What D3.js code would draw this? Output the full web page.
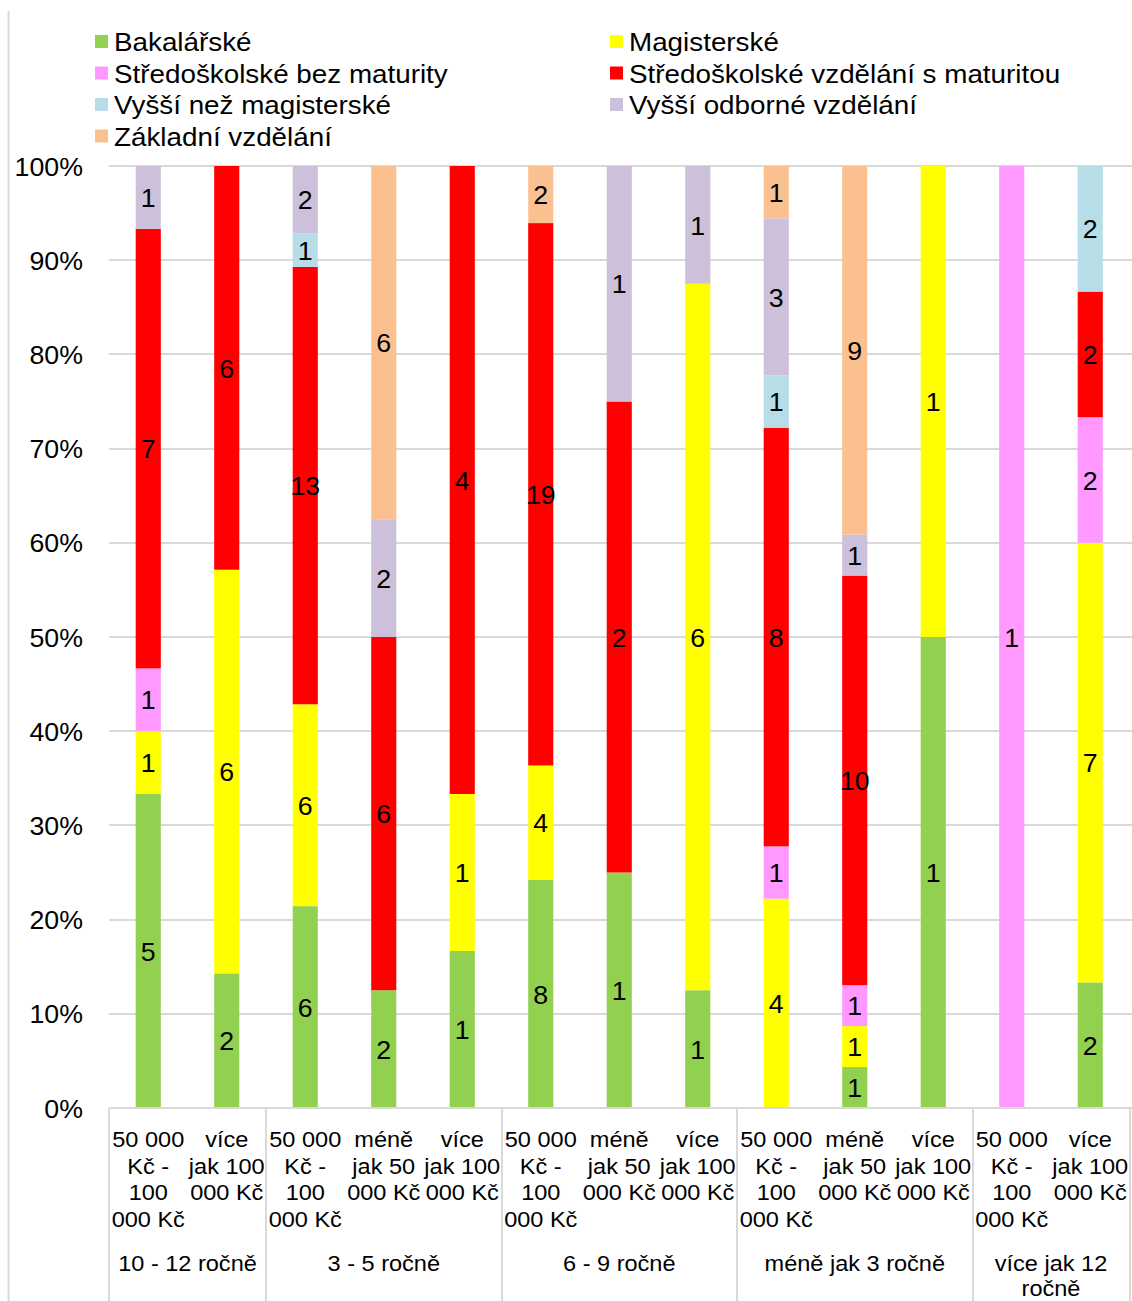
<!DOCTYPE html>
<html>
<head>
<meta charset="utf-8">
<script src="https://cdn.jsdelivr.net/npm/d3@7"></script>
<style>
  body { margin: 0; background: #fff; }
  text { font-family: "Liberation Sans", Arial, sans-serif; fill: #000; }
</style>
</head>
<body>
<div id="chart"></div>
<script>
const seriesNames = ["Bakalářské", "Magisterské", "Středoškolské bez maturity",
  "Středoškolské vzdělání s maturitou", "Vyšší než magisterské",
  "Vyšší odborné vzdělání", "Základní vzdělání"];
const seriesColors = ["#92D050", "#FFFF00", "#FF99FF", "#FF0000", "#B7DEE8", "#CCC0DA", "#FAC090"];

const groupNames = ["10 - 12 ročně", "3 - 5 ročně", "6 - 9 ročně", "méně jak 3 ročně", "více jak 12\nročně"];
const groupOf = [0, 0, 1, 1, 1, 2, 2, 2, 3, 3, 3, 4, 4];
const incomeLabels = [
  "50 000\nKč -\n100\n000 Kč", "více\njak 100\n000 Kč",
  "50 000\nKč -\n100\n000 Kč", "méně\njak 50\n000 Kč", "více\njak 100\n000 Kč",
  "50 000\nKč -\n100\n000 Kč", "méně\njak 50\n000 Kč", "více\njak 100\n000 Kč",
  "50 000\nKč -\n100\n000 Kč", "méně\njak 50\n000 Kč", "více\njak 100\n000 Kč",
  "50 000\nKč -\n100\n000 Kč", "více\njak 100\n000 Kč"
];

const bakalarske  = [5, 2, 6, 2, 1, 8, 1, 1, 0, 1, 1, 0, 2];
const magisterske = [1, 6, 6, 0, 1, 4, 0, 6, 4, 1, 1, 0, 7];
const bezMaturity = [1, 0, 0, 0, 0, 0, 0, 0, 1, 1, 0, 1, 2];
const sMaturitou  = [7, 6, 13, 6, 4, 19, 2, 0, 8, 10, 0, 0, 2];
const vyssiNezMag = [0, 0, 1, 0, 0, 0, 0, 0, 1, 0, 0, 0, 2];
const vyssiOdborne = [1, 0, 2, 2, 0, 0, 1, 1, 3, 1, 0, 0, 0];
const zakladni    = [0, 0, 0, 6, 0, 2, 0, 0, 1, 9, 0, 0, 0];

const yTicks = [0, 0.1, 0.2, 0.3, 0.4, 0.5, 0.6, 0.7, 0.8, 0.9, 1];

const seriesValues = [bakalarske, magisterske, bezMaturity, sMaturitou, vyssiNezMag, vyssiOdborne, zakladni];
const rows = incomeLabels.map((lab, i) => {
  const r = { idx: i };
  seriesNames.forEach((s, k) => r[s] = seriesValues[k][i]);
  return r;
});

const width = 1132, height = 1301;
const SX = 1.07; // text in the picture is slightly wider than tall
const grid = "#D9D9D9";

const svg = d3.select("#chart").append("svg")
  .attr("width", width).attr("height", height);

function txt(g, x, y, s, size, anchor) {
  return g.append("text")
    .attr("transform", `translate(${x},${y}) scale(${SX},1)`)
    .attr("text-anchor", anchor || "middle")
    .attr("dominant-baseline", "central")
    .style("font-size", size + "px")
    .text(s);
}

const x = d3.scaleBand()
  .domain(d3.range(incomeLabels.length))
  .range([109, 1129.5])
  .paddingInner(0.68)
  .paddingOuter(0.34);
const step = x.step();
const xStart = 109;

const y = d3.scaleLinear().domain([0, 1]).range([1108, 166]);

// left border of chart area
svg.append("line")
  .attr("x1", 8.5).attr("x2", 8.5).attr("y1", 11).attr("y2", height)
  .attr("stroke", grid).attr("stroke-width", 2);

// gridlines
svg.append("g").selectAll("line")
  .data(yTicks.filter(d => d > 0))
  .join("line")
  .attr("x1", xStart).attr("x2", width)
  .attr("y1", d => Math.round(y(d))).attr("y2", d => Math.round(y(d)))
  .attr("stroke", grid).attr("stroke-width", 2);

// y axis labels
const yl = svg.append("g");
yTicks.forEach(t => txt(yl, 83, y(t) + 1, d3.format(".0%")(t), 25, "end"));

// stacked bars
const stack = d3.stack().keys(seriesNames).offset(d3.stackOffsetExpand);
const layers = stack(rows);

const barG = svg.append("g");
layers.forEach((layer, k) => {
  barG.append("g").attr("fill", seriesColors[k])
    .selectAll("rect")
    .data(layer.filter(d => d.data[seriesNames[k]] > 0))
    .join("rect")
    .attr("x", d => x(d.data.idx))
    .attr("width", x.bandwidth())
    .attr("y", d => y(d[1]))
    .attr("height", d => y(d[0]) - y(d[1]));
});

// data labels
const lab = svg.append("g");
layers.forEach((layer, k) => {
  layer.forEach(d => {
    const v = d.data[seriesNames[k]];
    if (v > 0) {
      txt(lab, x(d.data.idx) + x.bandwidth() / 2, y((d[0] + d[1]) / 2) + 1, v, 25);
    }
  });
});

// category axis
const ax = svg.append("g");
ax.append("line")
  .attr("x1", xStart).attr("x2", width)
  .attr("y1", 1108).attr("y2", 1108)
  .attr("stroke", grid).attr("stroke-width", 2);

incomeLabels.forEach((s, i) => {
  const cx = x(i) + x.bandwidth() / 2;
  s.split("\n").forEach((line, j) => txt(ax, cx, 1139 + j * 26.8, line, 22));
});

// group separators and labels
const groups = groupNames.map((g, gi) => {
  const idxs = d3.range(groupOf.length).filter(i => groupOf[i] === gi);
  return { name: g, x0: xStart + d3.min(idxs) * step, x1: xStart + (d3.max(idxs) + 1) * step };
});
const seps = [groups[0].x0].concat(groups.map(g => g.x1));
ax.selectAll(".sep").data(seps).join("line")
  .attr("class", "sep")
  .attr("x1", d => Math.round(d)).attr("x2", d => Math.round(d))
  .attr("y1", 1108).attr("y2", height)
  .attr("stroke", grid).attr("stroke-width", 2);

groups.forEach(g => {
  g.name.split("\n").forEach((line, j) =>
    txt(ax, (g.x0 + g.x1) / 2, 1263 + j * 25.5, line, 22));
});

// legend
const leg = svg.append("g");
seriesNames.forEach((s, k) => {
  const col = k % 2, row = Math.floor(k / 2);
  const lx = col === 0 ? 95 : 610;
  const ly = 41.5 + row * 31.5;
  leg.append("rect").attr("x", lx).attr("y", ly - 6.5)
    .attr("width", 13).attr("height", 13).attr("fill", seriesColors[k]);
  txt(leg, lx + 19, ly + 1, s, 26, "start");
});
</script>
</body>
</html>
